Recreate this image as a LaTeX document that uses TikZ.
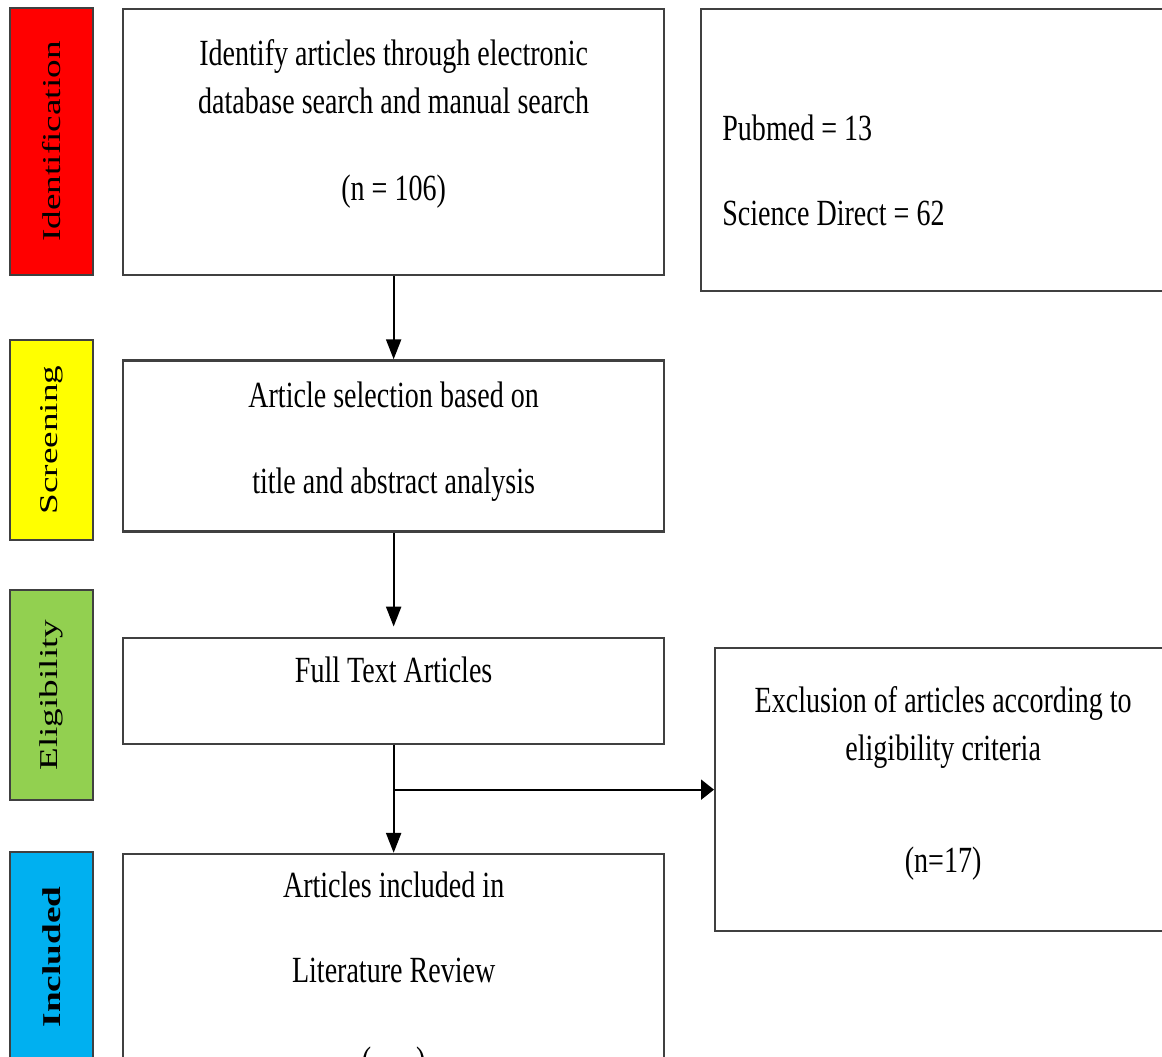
\documentclass[tikz,border=0pt]{standalone}
\usepackage{fontspec}
\setmainfont{Liberation Serif}[FakeStretch=0.76]
\newfontfamily\barfont{Liberation Serif}[FakeStretch=1.45]
\usetikzlibrary{arrows.meta,
				calc, chains,
				positioning}
\definecolor{phaseRed}{HTML}{FF0000}
\definecolor{phaseYellow}{HTML}{FFFF00}
\definecolor{phaseGreen}{HTML}{92D050}
\definecolor{phaseBlue}{HTML}{00B0F0}

\begin{document}
\begin{tikzpicture}[
	node distance = 20mm and 6mm,
		start chain = A going below,
		base/.style = {draw=black!75, line width=1.3pt, inner sep=0pt},
		 box/.style = {base, rectangle, minimum width=108.2mm, on chain=A},
	 sidebox/.style = {base, rectangle, anchor=north west},
		 bar/.style = {base, rectangle, rotate=90, minimum height=16.6mm,
						font=\barfont\fontsize{14.6pt}{17pt}\selectfont},
	 barbold/.style = {bar, font=\barfont\bfseries\fontsize{14.6pt}{17pt}\selectfont},
		 txt/.style = {inner sep=0pt, align=center,
						font=\fontsize{21pt}{25pt}\selectfont},
		 arr/.style = {line width=1.3pt, -{Triangle[length=4mm, width=3mm]}}
	]
\path [use as bounding box] (0,0) rectangle (232.4mm,-211.4mm);
\clip (0,0) rectangle (232.4mm,-211.4mm);
%
\node [box, minimum height=53.2mm, anchor=north west] at (24.4mm,-1.6mm) {}; % <-- A-1
\node [node distance=16.6mm, box, minimum height=34.2mm] {};                   % <-- A-2
\node [node distance=20.8mm, box, minimum height=21.2mm] {};                   % <-- A-3
\node [node distance=21.6mm, box, minimum height=52mm] {};                     % <-- A-4
%
\node [txt, below=6.2mm of A-1.north] (T-1)
	{Identify articles through electronic\\[0.8mm]
	 database search and manual search\\[8.6mm] (n = 106)};
\node [txt, below=4.4mm of A-2.north] (T-2)
	{Article selection based on\\[8.4mm] title and abstract analysis};
\node [txt, below=4mm of A-3.north] (T-3) {Full Text Articles};
\node [txt, below=3.8mm of A-4.north] (T-4)
	{Articles included in\\[8.2mm] Literature Review\\[9.2mm] (\hspace{9mm})};
%
\node [sidebox, minimum width=96mm, minimum height=56.4mm] (B-1) at (140mm,-1.6mm) {};
\node [sidebox, minimum width=91.2mm, minimum height=56.6mm] (B-2) at (142.8mm,-129.4mm) {};
\node [txt, align=left, below right=21.4mm and 4.4mm of B-1.north west] (U-1)
	{Pubmed = 13\\[8.2mm] Science Direct = 62};
\node [txt, below=7.8mm of B-2.north] (U-2)
	{Exclusion of articles according to\\[0.8mm]
	 eligibility criteria\\[13.6mm] (n=17)};
%% phases
\node [bar, fill=phaseRed, minimum width=53.4mm] (S-1) at (10.3mm,-28.3mm) {Identification};
\node [bar, fill=phaseYellow, minimum width=40mm] (S-2) at (10.3mm,-88mm) {Screening};
\node [bar, fill=phaseGreen, minimum width=42mm] (S-3) at (10.3mm,-139mm) {Eligibility};
\node [barbold, fill=phaseBlue, minimum width=42mm] (S-4) at (10.3mm,-191.4mm) {Included};
%%
\draw [arr] (A-1) -- (A-2);
\draw [arr, shorten >=2mm] (A-2) -- (A-3);
\draw [arr] (A-3) -- (A-4);
\draw [arr, -{Triangle[length=2.6mm, width=4mm]}]
	(A-3.south |- B-2.west) -- (B-2.west);
\end{tikzpicture}
\end{document}
